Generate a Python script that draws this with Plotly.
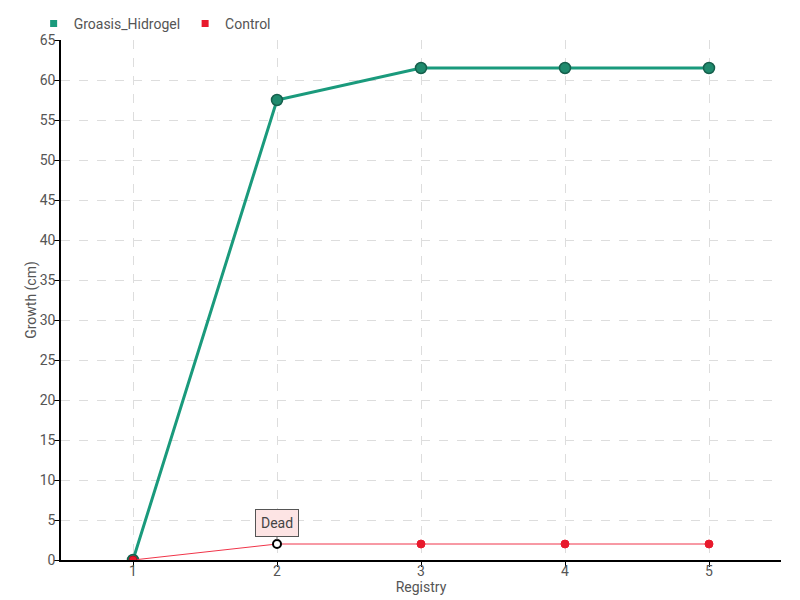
import plotly.graph_objects as go

registry = [1, 2, 3, 4, 5]
groasis = [0, 57.5, 61.5, 61.5, 61.5]
control = [0, 2, 2, 2, 2]
y_ticks = list(range(0, 70, 5))

FONT = "Roboto, Liberation Sans Narrow, sans-serif"
TXT = "#555555"
GREEN = "#1a9a7c"
RED = "#e8192c"

fig = go.Figure()
fig.add_trace(go.Scatter(
    x=registry, y=groasis, name="Groasis_Hidrogel", mode="lines+markers",
    line=dict(color=GREEN, width=3), showlegend=False,
    marker=dict(size=11, color="#1f8a6d", line=dict(color="#16604d", width=1.5)),
))
fig.add_trace(go.Scatter(
    x=registry, y=control, name="Control", mode="lines+markers",
    line=dict(color="#f0354a", width=1), showlegend=False,
    marker=dict(size=8, color=[RED, "#ffffff", RED, RED, RED],
                line=dict(color=["#b01020", "#000000", RED, RED, RED],
                          width=[1, 2, 1, 1, 1])),
))
# legend entries (square swatches)
for name, col in [("Groasis_Hidrogel", GREEN), ("Control", RED)]:
    fig.add_trace(go.Scatter(
        x=[None], y=[None], name=name, mode="markers",
        marker=dict(symbol="square", size=7, color=col),
    ))

fig.add_annotation(
    x=2, y=2, text="Dead", showarrow=True, arrowhead=0, arrowwidth=1,
    arrowcolor="#555555", ax=0, ay=-21, standoff=4,
    bgcolor="#fde4e4", bordercolor="#555555", borderwidth=1, borderpad=5,
    font=dict(family=FONT, size=14, color="#444444"),
)

axis_common = dict(
    showline=True, linecolor="#000000", linewidth=1.5,
    ticks="outside", ticklen=5, tickcolor="#000000",
    gridcolor="#dddddd", griddash="dash", gridwidth=1,
    tickfont=dict(family=FONT, size=14, color=TXT),
    zeroline=False, automargin=False,
)

fig.update_layout(
    width=800, height=600,
    paper_bgcolor="white", plot_bgcolor="white",
    margin=dict(l=53, r=27, t=32, b=48, autoexpand=False),
    font=dict(family=FONT, size=14, color=TXT),
    showlegend=True,
    legend=dict(orientation="h", x=-0.038, xanchor="left", y=1.0, yanchor="bottom",
                font=dict(family=FONT, size=14, color=TXT),
                itemwidth=30, tracegroupgap=0, bgcolor="rgba(0,0,0,0)"),
    xaxis=dict(range=[0.5, 5.5], tickvals=registry, ticklabelstandoff=-8,
               title=dict(text="Registry", standoff=0,
                          font=dict(family=FONT, size=14, color=TXT)),
               **axis_common),
    yaxis=dict(range=[0, 65], tickvals=y_ticks, ticklabelstandoff=-4,
               title=dict(text="Growth (cm)", standoff=0,
                          font=dict(family=FONT, size=14, color=TXT)),
               **axis_common),
)

fig.write_html("out.html")
